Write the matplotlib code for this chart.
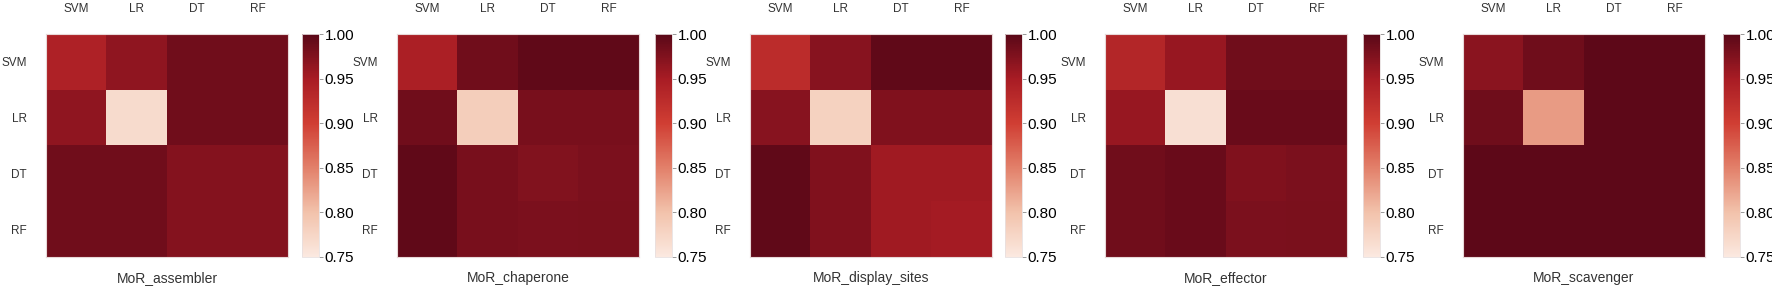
import numpy as np
import matplotlib
matplotlib.use("Agg")
import matplotlib.pyplot as plt
from matplotlib.colors import LinearSegmentedColormap

plt.rcParams['font.family'] = ['Liberation Sans', 'DejaVu Sans']

models = ["SVM", "LR", "DT", "RF"]
titles = ["MoR_assembler", "MoR_chaperone", "MoR_display_sites", "MoR_effector", "MoR_scavenger"]

# similarity matrices, rows/cols in the order of `models`
assembler = [[0.942, 0.965, 0.985, 0.985],
             [0.965, 0.768, 0.985, 0.985],
             [0.985, 0.985, 0.972, 0.972],
             [0.985, 0.985, 0.972, 0.972]]
chaperone = [[0.945, 0.985, 0.996, 0.996],
             [0.985, 0.785, 0.980, 0.980],
             [0.996, 0.980, 0.974, 0.978],
             [0.996, 0.980, 0.978, 0.979]]
display_sites = [[0.925, 0.970, 0.996, 0.996],
                 [0.970, 0.780, 0.975, 0.975],
                 [0.996, 0.975, 0.955, 0.955],
                 [0.996, 0.975, 0.955, 0.952]]
effector = [[0.935, 0.960, 0.985, 0.985],
            [0.960, 0.762, 0.990, 0.990],
            [0.985, 0.990, 0.975, 0.978],
            [0.985, 0.990, 0.978, 0.979]]
scavenger = [[0.968, 0.986, 0.998, 0.998],
             [0.986, 0.830, 0.998, 0.998],
             [0.998, 0.998, 0.998, 0.998],
             [0.998, 0.998, 0.998, 0.998]]
matrices = [assembler, chaperone, display_sites, effector, scavenger]

cbar_ticks = [0.75, 0.80, 0.85, 0.90, 0.95, 1.00]

cmap = LinearSegmentedColormap.from_list(
    "peach_red", ["#fbe9e0", "#f2c2ab", "#e2806a", "#d03e33", "#a81c24", "#5a0818"])

W, H = 1772, 291
fig = plt.figure(figsize=(W / 100, H / 100), dpi=100)

# left edge of each heatmap and of its colorbar, in pixels
hm_left = [46, 397, 750, 1105, 1463]
cb_left = [302, 655, 1005, 1363, 1723]
hm_w, cb_w = 242, 17
top, bottom = 34, 257

for i, (mat, title) in enumerate(zip(matrices, titles)):
    ax = fig.add_axes([hm_left[i] / W, 1 - bottom / H, hm_w / W, (bottom - top) / H])
    im = ax.imshow(np.array(mat), cmap=cmap, vmin=0.75, vmax=1.0, aspect='auto')
    ax.set_xticks(range(len(models)))
    ax.set_xticklabels(models, fontsize=8.5, color='#333333')
    ax.set_yticks(range(len(models)))
    ax.set_yticklabels(models, fontsize=8.5, color='#333333')
    ax.xaxis.tick_top()
    ax.tick_params(length=0, pad=14)
    ax.tick_params(axis='y', pad=14)
    for s in ax.spines.values():
        s.set_color('#e8d8d8')
        s.set_linewidth(0.8)
    ax.set_xlabel(title, fontsize=10, color='#333333', labelpad=10)

    cax = fig.add_axes([cb_left[i] / W, 1 - bottom / H, cb_w / W, (bottom - top) / H])
    cb = fig.colorbar(im, cax=cax, ticks=cbar_ticks)
    cb.ax.set_yticklabels([f"{t:.2f}" for t in cbar_ticks])
    cb.ax.tick_params(labelsize=11, length=3, width=0.6, color='#888888', pad=1)
    cb.outline.set_edgecolor('#e8e0e0')
    cb.outline.set_linewidth(0.6)

fig.savefig("out.png", dpi=100)
